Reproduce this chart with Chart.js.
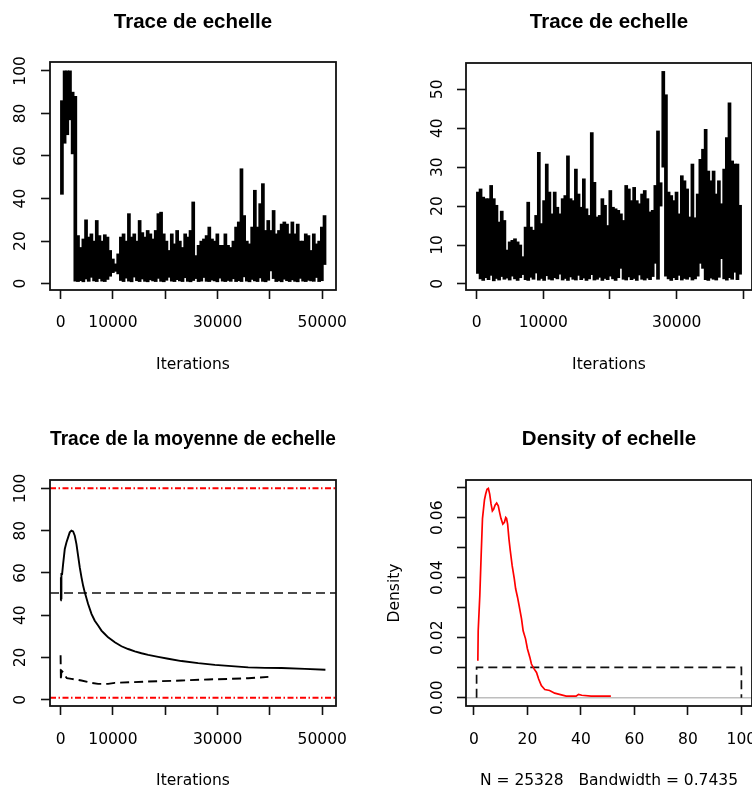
<!DOCTYPE html>
<html><head><meta charset="utf-8">
<script src="https://cdn.jsdelivr.net/npm/chart.js@4/dist/chart.umd.min.js"></script>
<style>
html,body{margin:0;padding:0;background:#fff;overflow:hidden;}
#wrap{position:relative;width:752px;height:793px;overflow:hidden;background:#fff;}
canvas{position:absolute;}
</style></head><body>
<div id="wrap">
<canvas id="c1" width="376" height="396" style="left:0;top:0;width:376px;height:396px"></canvas>
<canvas id="c2" width="420" height="396" style="left:376px;top:0;width:420px;height:396px"></canvas>
<canvas id="c3" width="376" height="397" style="left:0;top:396px;width:376px;height:397px"></canvas>
<canvas id="c4" width="420" height="397" style="left:376px;top:396px;width:420px;height:397px"></canvas>
</div>
<script>
// ---------------- DATA ----------------
// Chain 1 trace: iterations per read block, low / high extremes of each block
const trace1Step = 512;
const trace1Low = [42, 66, 70, 77, 61, 1.2,
  1.0, 1.4, 0.9, 2.2, 1.1, 3.0, 1.3, 1.0, 2.4, 1.2,
  1.0, 2.0, 3.5, 5.2, 5.8, 4.6, 1.5, 1.0, 2.6, 1.2,
  0.9, 3.1, 1.4, 1.0, 2.2, 1.1, 0.9, 1.8, 1.3, 1.0,
  2.5, 1.1, 0.9, 1.6, 3.0, 1.2, 1.0, 1.9, 1.3, 1.0,
  2.8, 1.1, 0.9, 1.5, 2.4, 1.0, 1.2, 2.9, 1.1, 1.0,
  1.7, 1.3, 0.9, 2.6, 1.2, 1.0, 1.5, 1.1, 2.3, 1.0,
  1.4, 1.0, 3.2, 1.2, 0.9, 2.0, 1.3, 1.0, 2.7, 1.1,
  0.9, 1.6, 6.0, 2.4, 1.0, 1.3, 0.9, 2.1, 1.4, 1.0,
  1.8, 1.1, 0.9, 2.5, 1.2, 1.0, 1.6, 1.3, 1.1, 2.9,
  1.0, 1.4, 9.0];
const trace1High = [86, 100, 100, 100, 90, 88,
  22.6, 17, 21, 30, 21.9, 23.4, 20, 29.7, 22.6, 20,
  23, 21.9, 15.6, 11.6, 9.3, 14, 21.9, 23.4, 20, 32.9,
  21.9, 23.4, 20, 29.7, 24, 21.9, 25, 23.4, 21, 25,
  32.9, 33.6, 23.4, 20, 15.6, 23.4, 18.7, 25, 20, 17,
  23.4, 21.9, 25, 38.4, 13.2, 18, 20, 21, 22.6, 26.6,
  21, 20, 23.4, 18, 18, 23.4, 18, 17, 20, 26.6,
  29, 54, 32, 20, 18.7, 26.6, 43.9, 26.6, 37.6, 47,
  25, 29.7, 25, 34.4, 23.4, 25, 28, 29, 28, 23.4,
  29, 23.4, 28, 20, 20, 23.4, 22.6, 15.6, 23.4, 18.7,
  20, 26.6, 32];

// Chain 2 trace
const trace2Step = 397;
const trace2Low = [2.7, 1.3, 0.9, 1.6, 1.1, 2.2, 0.8, 1.4, 1.0, 1.9,
  1.2, 1.5, 1.0, 2.0, 1.3, 0.9, 1.6, 2.4, 1.1, 0.9,
  1.7, 1.2, 2.8, 1.0, 1.4, 0.9, 2.1, 1.2, 1.0, 1.6,
  1.3, 2.5, 1.0, 1.4, 0.9, 1.8, 1.2, 1.0, 2.2, 1.1,
  1.5, 0.9, 1.3, 2.4, 1.0, 1.2, 1.7, 0.9, 1.4,
  1.1, 2.0, 1.3, 0.9, 1.6, 4.0, 1.2, 1.0, 1.8, 1.1,
  1.4, 0.9, 2.3, 1.2, 1.0, 1.5, 1.1, 1.9, 5.3, 1.2,
  20.0, 30.0, 2.0, 1.3, 0.9, 1.6, 1.1, 2.2, 1.0, 1.4,
  1.2, 1.8, 1.0, 1.3, 2.0, 5.3, 4.0, 1.1, 0.9, 1.5,
  1.2, 1.0, 1.7, 6.5, 1.3, 1.0, 1.6, 1.2, 3.0, 1.1, 2.5];
const trace2High = [23.6, 24.4, 22.3, 21.9, 21.9, 25.3, 21.9, 20.2, 15.9, 18.7,
  16.3, 8.7, 10.8, 11.2, 11.6, 10.8, 10.0, 7.0, 14.6, 21.0,
  14.6, 13.8, 17.6, 33.8, 15.5, 21.4, 30.8, 23.6, 18.0, 23.6,
  19.7, 18.0, 21.9, 22.7, 32.9, 21.9, 21.4, 29.5, 23.1, 19.7,
  27.0, 19.3, 17.6, 38.9, 26.1, 17.2, 17.6, 21.9, 20.2,
  15.0, 24.0, 19.7, 19.3, 18.9, 18.0, 16.3, 25.3, 24.4, 21.4,
  24.8, 21.4, 20.6, 23.1, 24.0, 21.9, 18.5, 18.9, 25.3, 39.3,
  26.0, 54.6, 48.6, 23.6, 22.7, 21.4, 23.6, 18.0, 27.8, 26.5,
  24.4, 17.2, 30.8, 17.0, 23.1, 32.0, 34.6, 39.7, 29.0, 26.5,
  29.0, 23.1, 26.5, 20.6, 29.5, 37.6, 46.5, 31.6, 30.8, 30.8, 20.2];

// Running means
const runMeanIter1 = [1, 60, 120, 160, 290, 480, 800, 1115, 1435, 1750,
  2070, 2390, 2710, 3030, 3350, 3665, 3985, 4300, 4620, 5260,
  5900, 6530, 7170, 7810, 8445, 9080, 9720, 10360, 11630, 12910,
  14180, 15460, 16730, 18640, 20560, 23100, 26290, 29480, 32670, 35850,
  39040, 42230, 46690, 50600];
const runMean1 = [47, 58, 48, 59.5, 59.5, 64.2, 71.3, 74.4, 76.8, 79.2,
  80.0, 79.6, 77.6, 73.6, 68.1, 62.6, 58, 54, 50.8, 45.3,
  40.6, 37.4, 35.1, 32.7, 31.1, 29.5, 28.4, 27.2, 25.3, 24,
  22.9, 22, 21.2, 20.3, 19.4, 18.3, 17.3, 16.5, 15.9, 15.3,
  15.1, 15.0, 14.6, 14.2];
const runMeanIter2 = [1, 60, 160, 480, 800, 1200, 2070, 3980, 5900, 7170,
  9080, 10360, 13540, 16730, 23100, 28200, 32670, 35850, 39700];
const runMean2 = [21, 9.2, 13.8, 13, 11.5, 10.2, 9.9, 9.1, 8, 7.5,
  7.5, 8, 8.3, 8.6, 9.1, 9.6, 9.9, 10.2, 10.8];

// Prior
const priorBounds = [1, 100];
const priorMean = 50.5;
const priorDensity = 0.0101;

// Density of echelle
const densX = [1.47, 1.6, 2.2, 2.7, 3.2, 3.95, 4.4, 4.9, 5.4, 5.9,
  6.4, 6.9, 7.4, 7.9, 8.5, 9.1, 9.6, 10.1, 10.8, 11.4,
  11.9, 12.2, 12.6, 13.1, 13.6, 14.3, 15.1, 15.6, 16.3, 16.9,
  17.8, 18.4, 19.3, 20.0, 20.9, 21.5, 22.5, 23.4, 24.2, 25.2,
  26.5, 28.3, 30.2, 32.7, 34.5, 38.2, 39.1, 40.3, 43.8, 51.2];
const densY = [0.0123, 0.0223, 0.034, 0.0473, 0.0597, 0.066, 0.0679, 0.0695, 0.0698, 0.0679,
  0.0646, 0.0623, 0.0629, 0.0642, 0.0649, 0.064, 0.0618, 0.0598, 0.0579, 0.0585,
  0.0601, 0.0598, 0.0579, 0.0529, 0.049, 0.044, 0.0396, 0.0363, 0.0335, 0.0307,
  0.0263, 0.0223, 0.0196, 0.0163, 0.0135, 0.0112, 0.0096, 0.0084, 0.0062, 0.004,
  0.0027, 0.0024, 0.0015, 0.0009, 0.0005, 0.0005, 0.0011, 0.0008, 0.0005, 0.0005];

// Ticks
const iterTicks1 = [0, 10000, 20000, 30000, 40000, 50000];
const iterLabels1 = ['0', '10000', '', '30000', '', '50000'];
const iterTicks2 = [0, 10000, 20000, 30000, 40000];
const iterLabels2 = ['0', '10000', '', '30000', ''];
const yTicks100 = [0, 20, 40, 60, 80, 100];
const yLabels100 = ['0', '20', '40', '60', '80', '100'];
const yTicks50 = [0, 10, 20, 30, 40, 50];
const yLabels50 = ['0', '10', '20', '30', '40', '50'];
const densXTicks = [0, 20, 40, 60, 80, 100];
const densXLabels = ['0', '20', '40', '60', '80', '100'];
const densYTicks = [0, 0.01, 0.02, 0.03, 0.04, 0.05, 0.06, 0.07];
const densYLabels = ['0.00', '', '0.02', '', '0.04', '', '0.06', ''];

const titles = ['Trace de echelle', 'Trace de echelle', 'Trace de la moyenne de echelle', 'Density of echelle'];
const xTitles = ['Iterations', 'Iterations', 'Iterations', 'N = 25328   Bandwidth = 0.7435'];

// ---------------- RENDER ----------------
const FONT = 'DejaVu Sans';
Chart.defaults.font.family = FONT;
Chart.defaults.color = '#000';
const TS = 15.5;

const boxPlugin = { id: 'rbox', afterDatasetsDraw(chart) {
  const { ctx, chartArea: a } = chart;
  ctx.save(); ctx.strokeStyle = '#111'; ctx.lineWidth = 1.8;
  ctx.strokeRect(a.left, a.top, a.right - a.left, a.bottom - a.top);
  ctx.restore();
}};

function fix(prop, val) {
  return function (s) { s[prop] = val; s.paddingTop = 0; s.paddingBottom = 0; s.paddingLeft = 0; s.paddingRight = 0; };
}
function xScale(min, max, tv, tl, title, height, pad, tpad) {
  return { type: 'linear', position: 'bottom', min, max, offset: false,
    afterBuildTicks: s => { s.ticks = tv.map(v => ({ value: v })); },
    afterFit: fix('height', height),
    grid: { offset: false, drawOnChartArea: false, drawTicks: true, tickLength: 9, tickColor: '#111', tickWidth: 1.6 },
    border: { display: false },
    ticks: { autoSkip: false, maxRotation: 0, minRotation: 0, padding: pad, font: { size: TS }, color: '#000',
      callback: (v, i) => tl[i] },
    title: { display: !!title, text: title, font: { size: TS }, color: '#000', padding: { top: 0, bottom: tpad } }
  };
}
function yScale(min, max, tv, tl, width, pad, title, tpad) {
  return { type: 'linear', position: 'left', min, max,
    afterBuildTicks: s => { s.ticks = tv.map(v => ({ value: v })); },
    afterFit: fix('width', width),
    grid: { drawOnChartArea: false, drawTicks: true, tickLength: 9, tickColor: '#111', tickWidth: 1.6 },
    border: { display: false },
    ticks: { autoSkip: false, minRotation: 90, maxRotation: 90, crossAlign: 'center', padding: pad,
      font: { size: TS }, color: '#000', callback: (v, i) => tl[i] },
    title: { display: !!title, text: title || '', font: { size: TS }, color: '#000', padding: { top: tpad || 0, bottom: 0 } }
  };
}
function baseOpts(title, tpTop, tpBot, padRight, scales) {
  return { responsive: false, animation: false, events: [], devicePixelRatio: 1,
    layout: { padding: { left: 0, right: padRight, top: 0, bottom: 0 } },
    plugins: { legend: { display: false }, tooltip: { enabled: false },
      title: { display: true, text: title, fullSize: false, color: '#000',
        font: { family: 'Liberation Sans', size: 20.5, weight: 'bold' }, padding: { top: tpTop, bottom: tpBot } } },
    scales };
}
// one vertical stroke per read block: floating bar from its low to its high value
function traceDataset(step, lo, hi) {
  return { data: hi.map((h, i) => ({ x: i * step + step / 2, y: [lo[i], h] })),
    backgroundColor: '#000', borderWidth: 0, barThickness: 3, grouped: false, inflateAmount: 0.35 };
}
function pairs(xs, ys) { return xs.map((x, i) => ({ x, y: ys[i] })); }
const lineDs = (data, color, width, dash) => ({ data, borderColor: color, borderWidth: width,
  borderDash: dash || [], pointRadius: 0, tension: 0, fill: false });

// Panel 1
const x1min = -2023, x1max = 52624;
new Chart(document.getElementById('c1'), { type: 'bar',
  data: { datasets: [traceDataset(trace1Step, trace1Low, trace1High)] },
  options: baseOpts(titles[0], 10.2, 27.2, 40, {
    x: xScale(x1min, x1max, iterTicks1, iterLabels1, xTitles[0], 106, 14.2, 22.2),
    y: yScale(-2.97, 104.17, yTicks100, yLabels100, 50, 5.7) }),
  plugins: [boxPlugin] });

// Panel 2
const x2min = -1587, x2max = 41288;
new Chart(document.getElementById('c2'), { type: 'bar',
  data: { datasets: [traceDataset(trace2Step, trace2Low, trace2High)] },
  options: baseOpts(titles[1], 10.2, 28.2, 44, {
    x: xScale(x2min, x2max, iterTicks2, iterLabels2, xTitles[1], 106, 14.2, 22.2),
    y: yScale(-1.56, 56.76, yTicks50, yLabels50, 90, 9.4) }),
  plugins: [boxPlugin] });

// Panel 3
new Chart(document.getElementById('c3'), { type: 'line',
  data: { datasets: [
    lineDs(pairs(runMeanIter1, runMean1), '#000', 1.9),
    lineDs(pairs(runMeanIter2, runMean2), '#000', 1.9, [9, 5]),
    lineDs([{ x: x1min, y: priorMean }, { x: x1max, y: priorMean }], '#111', 1.7, [9, 5]),
    lineDs([{ x: x1min, y: priorBounds[0] }, { x: x1max, y: priorBounds[0] }], '#ff0000', 2, [6, 2.5, 1.5, 2.5]),
    lineDs([{ x: x1min, y: priorBounds[1] }, { x: x1max, y: priorBounds[1] }], '#ff0000', 2, [6, 2.5, 1.5, 2.5])
  ] },
  options: baseOpts(titles[2], 30.7, 28.7, 40, {
    x: xScale(x1min, x1max, iterTicks1, iterLabels1, xTitles[2], 87, 15.4, 2.7),
    y: yScale(-2.96, 103.96, yTicks100, yLabels100, 50, 5.7) }),
  plugins: [boxPlugin] });

// Panel 4
const dxmin = -2.96, dxmax = 103.96;
new Chart(document.getElementById('c4'), { type: 'line',
  data: { datasets: [
    lineDs(pairs(densX, densY), '#ff0000', 1.7),
    lineDs([{ x: priorBounds[0], y: 0 }, { x: priorBounds[0], y: priorDensity }, { x: priorBounds[1], y: priorDensity }, { x: priorBounds[1], y: 0 }], '#111', 1.7, [9, 5]),
    lineDs([{ x: dxmin, y: 0 }, { x: dxmax, y: 0 }], '#bebebe', 1.5)
  ] },
  options: baseOpts(titles[3], 30.7, 28.7, 44, {
    x: xScale(dxmin, dxmax, densXTicks, densXLabels, xTitles[3], 87, 15.4, 2.7),
    y: yScale(-0.00279, 0.07259, densYTicks, densYLabels, 90, 2.05, 'Density', 9.9) }),
  plugins: [boxPlugin] });
</script>
</body></html>
